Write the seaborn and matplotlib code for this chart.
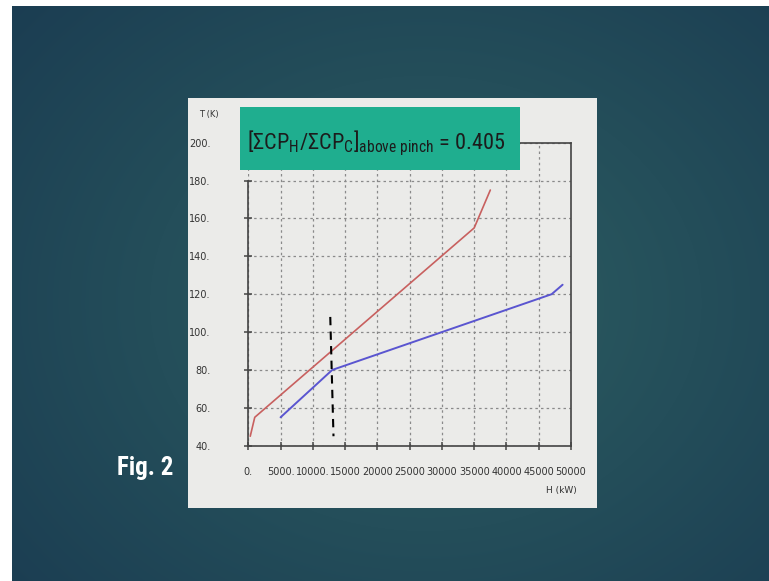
import numpy as np
import pandas as pd
import matplotlib
matplotlib.use("Agg")
import matplotlib.pyplot as plt
from matplotlib import font_manager
from matplotlib.patches import Rectangle
import seaborn as sns

# Composite curves (enthalpy H in kW, temperature T in K)
hot_H = [300, 1000, 35000, 37500]
hot_T = [45, 55, 155, 175]
cold_H = [5000, 13000, 47000, 48700]
cold_T = [55, 80, 120, 125]
pinch_H = [12700, 13200]
pinch_T = [108, 45]

x_ticks = [0, 5000, 10000, 15000, 20000, 25000, 30000, 35000, 40000, 45000, 50000]
x_labels = ["0.", "5000.", "10000.", "15000", "20000", "25000", "30000",
            "35000", "40000", "45000", "50000"]
y_ticks = [40, 60, 80, 100, 120, 140, 160, 180, 200]
y_labels = ["40.", "60.", "80.", "100.", "120.", "140.", "160.", "180.", "200."]

ratio_text = "0.405"

sns.set_theme(style="white")
plt.rcParams["font.family"] = ["DejaVu Sans"]

installed = {f.name for f in font_manager.fontManager.ttflist}
narrow = None
for cand in ["Liberation Sans Narrow", "DejaVu Sans Condensed", "Roboto Condensed",
             "Open Sans Condensed"]:
    if cand in installed:
        narrow = cand
        break
if narrow is None:
    narrow = "Liberation Sans"
    banner_size, fig_size = 13, 16
else:
    banner_size, fig_size = 16, 18

plt.rcParams["mathtext.fontset"] = "custom"
plt.rcParams["mathtext.rm"] = narrow
plt.rcParams["mathtext.it"] = narrow + ":italic"
plt.rcParams["mathtext.bf"] = narrow + ":bold"
plt.rcParams["mathtext.sf"] = narrow

W, H = 769, 581
fig = plt.figure(figsize=(W / 100, H / 100), dpi=100)
fig.patch.set_facecolor("white")

# Slide background: dark teal radial gradient
bg = fig.add_axes([12 / W, 0, 1 - 12 / W, 1 - 6 / H], zorder=-3)
yy, xx = np.mgrid[0:H, 0:W]
r = np.sqrt(((xx - 420) / 560) ** 2 + ((yy - 300) / 460) ** 2)
r = np.clip(r, 0, 1)
c_in = np.array([0x2d, 0x5f, 0x62]) / 255
c_out = np.array([0x1b, 0x3d, 0x52]) / 255
img = c_in[None, None, :] * (1 - r[..., None]) + c_out[None, None, :] * r[..., None]
bg.imshow(img, aspect="auto", interpolation="bilinear")
bg.set_axis_off()

# Light chart panel
fig.add_artist(Rectangle((188 / W, 1 - 508 / H), (597 - 188) / W, (508 - 98) / H,
                         transform=fig.transFigure, facecolor="#ebebe9",
                         edgecolor="none", zorder=-1))

ax = fig.add_axes([248.3 / W, 135.3 / H, (571 - 248.3) / W, (445.7 - 142.7) / H], zorder=0)
ax.set_facecolor("none")

hot = pd.DataFrame({"H": hot_H, "T": hot_T})
cold = pd.DataFrame({"H": cold_H, "T": cold_T})
sns.lineplot(data=hot, x="H", y="T", ax=ax, color="#c8605f", lw=1.2, estimator=None, sort=False)
sns.lineplot(data=cold, x="H", y="T", ax=ax, color="#5a55d0", lw=1.4, estimator=None, sort=False)
ax.plot(pinch_H, pinch_T, color="black", lw=1.5, dashes=(4, 3))

ax.set_xlim(0, 50000)
ax.set_ylim(40, 200)
ax.set_xticks(x_ticks)
ax.set_xticklabels(x_labels)
ax.set_yticks(y_ticks)
ax.set_yticklabels(y_labels)
ax.set_xlabel("")
ax.set_ylabel("")
ax.grid(True, color="#8a8a8a", lw=0.9, linestyle=(0, (2, 2.5)))
for s in ax.spines.values():
    s.set_color("#444444")
    s.set_linewidth(1.2)
    s.set_visible(True)
ax.spines["left"].set_bounds(40, 180)
ax.tick_params(axis="both", which="major", direction="inout", length=6, width=1.1,
               color="#444444", labelsize=7, labelcolor="#333333")
ax.tick_params(axis="y", pad=24, left=True)
ax.tick_params(axis="x", pad=12, bottom=True)

fig.text(199 / W, 1 - 115 / H, "T (K)", fontsize=6, color="#333333", va="center", ha="left")
fig.text(577 / W, 1 - 491 / H, "H (kW)", fontsize=6.5, color="#333333", va="center", ha="right")

# Ratio banner
fig.add_artist(Rectangle((239.5 / W, 1 - 170 / H), (520 - 239.5) / W, (170 - 107.3) / H,
                         transform=fig.transFigure, facecolor="#1fae8f",
                         edgecolor="none", zorder=5))
fig.text(247 / W, 1 - 149 / H,
         r"$\mathrm{[\Sigma CP_{H}/\Sigma CP_{C}]_{above\ pinch}}$ = " + ratio_text,
         fontsize=banner_size, color="#1c1c1c", va="baseline", ha="left",
         family=[narrow, "DejaVu Sans"], zorder=6)

fig.text(117 / W, 1 - 468 / H, "Fig. 2", fontsize=fig_size, fontweight="bold", color="white",
         va="center", ha="left", family=[narrow, "DejaVu Sans"])

fig.savefig("out.png", dpi=100)
